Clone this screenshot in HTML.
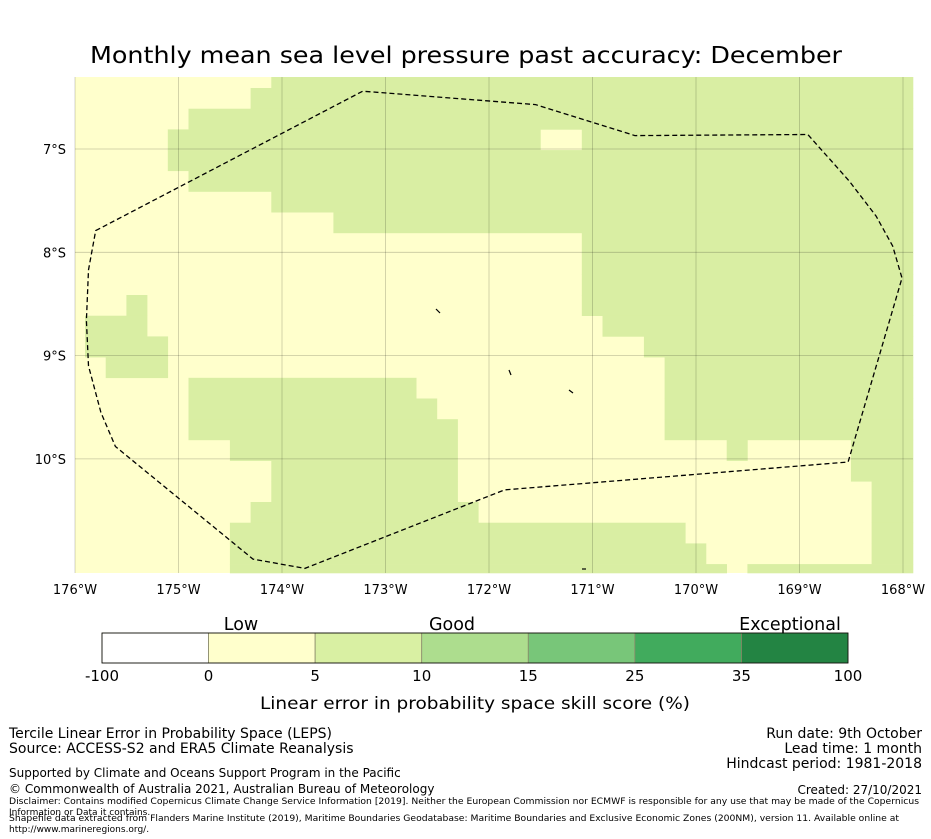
<!DOCTYPE html>
<html><head><meta charset="utf-8"><style>
body{margin:0;background:#fff;}
svg{display:block;font-family:"DejaVu Sans","Liberation Sans",sans-serif;}
</style></head><body>
<svg id="fig" width="931" height="839" viewBox="0 0 931 839">
<text x="466" y="63" font-size="23" text-anchor="middle" textLength="752" lengthAdjust="spacingAndGlyphs">Monthly mean sea level pressure past accuracy: December</text>
<g id="map"></g>
<g id="cbar"></g>
<g font-size="14">
<text x="9" y="738">Tercile Linear Error in Probability Space (LEPS)</text>
<text x="9" y="753">Source: ACCESS-S2 and ERA5 Climate Reanalysis</text>
<text x="922" y="738" text-anchor="end">Run date: 9th October</text>
<text x="922" y="753" text-anchor="end">Lead time: 1 month</text>
<text x="922" y="768" text-anchor="end">Hindcast period: 1981-2018</text>
<text x="9" y="777" font-size="12">Supported by Climate and Oceans Support Program in the Pacific</text>
<text x="9" y="793" font-size="12">© Commonwealth of Australia 2021, Australian Bureau of Meteorology</text>
<text x="922" y="794" font-size="12" text-anchor="end">Created: 27/10/2021</text>
<text x="9" y="804" font-size="9" textLength="910" lengthAdjust="spacingAndGlyphs">Disclaimer: Contains modified Copernicus Climate Change Service Information [2019]. Neither the European Commission nor ECMWF is responsible for any use that may be made of the Copernicus</text>
<text x="9" y="815" font-size="9">Information or Data it contains.</text>
<text x="9" y="821" font-size="9" textLength="890" lengthAdjust="spacingAndGlyphs">Shapefile data extracted from Flanders Marine Institute (2019), Maritime Boundaries Geodatabase: Maritime Boundaries and Exclusive Economic Zones (200NM), version 11. Available online at</text>
<text x="9" y="832" font-size="9">http://www.marineregions.org/.</text>
</g>
</svg>
<script>
// Green (5-10 skill) cell ranges per row [startCol,endCol], cols 0..40, rows 0..24
const greenRows = [
 [[10,40]],[[9,40]],[[6,40]],[[5,22],[25,40]],[[5,40]],[[6,40]],[[10,40]],[[13,40]],
 [[25,40]],[[25,40]],[[25,40]],[[3,3],[25,40]],[[1,3],[26,40]],[[1,4],[28,40]],[[2,4],[29,40]],
 [[6,16],[29,40]],[[6,17],[29,40]],[[6,18],[29,40]],[[8,18],[32,32],[38,40]],[[10,18],[38,40]],
 [[10,18],[39,40]],[[9,19],[39,40]],[[8,29],[39,40]],[[8,30],[39,40]],[[8,31],[33,40]]
];
const lonTicks = [-176,-175,-174,-173,-172,-171,-170,-169,-168];
const latTicks = [-7,-8,-9,-10];
const boundaryLon = [-175.8,-173.22,-171.55,-170.59,-168.92,-168.52,-168.26,-168.1,-168.01,-168.53,-171.85,-173.78,-174.28,-175.61,-175.75,-175.87,-175.89,-175.87];
const boundaryLat = [-7.79,-6.44,-6.57,-6.87,-6.86,-7.31,-7.65,-7.94,-8.25,-10.03,-10.3,-11.06,-10.97,-9.88,-9.55,-9.1,-8.66,-8.17];
const cbarBounds = ["-100","0","5","10","15","25","35","100"];
const cbarColors = ["#ffffff","#ffffcc","#d9f0a3","#addd8e","#78c679","#41ab5d","#238443"];
const cbarCats = ["Low","Good","Exceptional"];

const NS="http://www.w3.org/2000/svg";
function mk(tag,attrs,parent){const e=document.createElementNS(NS,tag);for(const k in attrs)e.setAttribute(k,attrs[k]);parent.appendChild(e);return e;}
const X0=75,X1=913,Y0=77,Y1=573;
const xS=lon=>75+(lon+176)*103.5;
const yS=lat=>149+(-7-lat)*103.3;
function colX(c){return c===0?75:85+20.7*(c-1);}
function colX2(c){return c===40?913:85+20.7*c;}
function rowY(r){return r===0?77:88+20.7*(r-1);}
function rowY2(r){return r===24?573:88+20.7*r;}
const map=document.getElementById('map');
const bg=mk('rect',{x:X0,y:Y0,width:X1-X0,height:Y1-Y0,fill:'#ffffcc'},map);


greenRows.forEach((ranges,r)=>{ranges.forEach(([a,b])=>{
 const e=mk('rect',{x:colX(a),y:rowY(r),width:colX2(b)-colX(a)+0.3,height:rowY2(r)-rowY(r)+0.3,fill:'#d9eea3'},map);
 
 
});});
lonTicks.forEach(l=>{
 const x=xS(l);
 const g=mk('line',{x1:x,x2:x,y1:Y0,y2:Y1,stroke:'#000','stroke-opacity':0.22,'stroke-width':0.8},map);
 
 
 const t=mk('text',{x:x,y:594,'font-size':13,'text-anchor':'middle'},map);t.textContent=(-l)+'°W';
 
 
});
latTicks.forEach(l=>{
 const y=yS(l);
 const g=mk('line',{x1:X0,x2:X1,y1:y,y2:y,stroke:'#000','stroke-opacity':0.22,'stroke-width':0.8},map);
 
 
 const t=mk('text',{x:66,y:y+5,'font-size':13,'text-anchor':'end'},map);t.textContent=(-l)+'°S';
 
 
});
const pts=boundaryLon.map((l,i)=>xS(l).toFixed(1)+','+yS(boundaryLat[i]).toFixed(1)).join(' ');
const poly=mk('polygon',{points:pts,fill:'none',stroke:'#000','stroke-width':1.3,'stroke-dasharray':'5,3'},map);


[[436,309,440,313],[509,370,511,375],[569,390,573,393],[582,569,586,569]].forEach(s=>{
 const e=mk('line',{x1:s[0],y1:s[1],x2:s[2],y2:s[3],stroke:'#000','stroke-width':1.2},map);
 
 
});
const cb=document.getElementById('cbar');
const cx0=102,cx1=848,cw=(cx1-cx0)/cbarColors.length;
cbarColors.forEach((c,i)=>{
 const e=mk('rect',{x:cx0+i*cw,y:633,width:cw,height:30,fill:c,stroke:'#8a8a6a','stroke-width':0.8},cb);
 
 
});
const fr=mk('rect',{x:cx0,y:633,width:cx1-cx0,height:30,fill:'none',stroke:'#000','stroke-width':0.8},cb);


cbarBounds.forEach((b,i)=>{
 const t=mk('text',{x:cx0+i*cw,y:681,'font-size':15,'text-anchor':'middle'},cb);t.textContent=b;
 
 
});
[241,452,790].forEach((x,i)=>{
 const t=mk('text',{x:x,y:630,'font-size':17.5,'text-anchor':'middle'},cb);t.textContent=cbarCats[i];
 
 
});
const ct=mk('text',{x:475,y:709,'font-size':17,'text-anchor':'middle',textLength:430,lengthAdjust:'spacingAndGlyphs'},cb);
ct.textContent='Linear error in probability space skill score (%)';


</script>
</body></html>
